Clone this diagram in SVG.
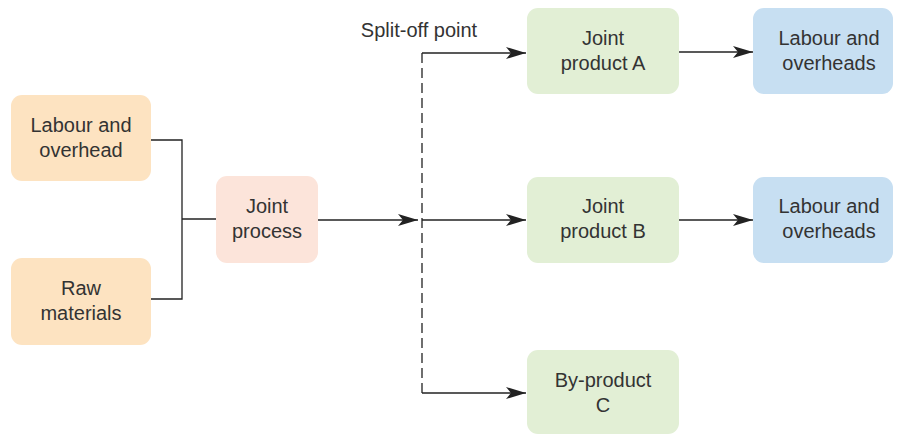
<svg xmlns="http://www.w3.org/2000/svg" width="900" height="434" viewBox="0 0 900 434">
<defs>
<style>
.box{stroke:none}
.or{fill:#fde3c1}.pk{fill:#fce4da}.gr{fill:#e2efd5}.bl{fill:#c7dff2}
text{font-family:"Liberation Sans",Arial,sans-serif;font-size:20px;fill:#333;text-anchor:middle}
.ln{fill:none;stroke:#222;stroke-width:1.3}
.dash{fill:none;stroke:#222;stroke-width:1.3;stroke-dasharray:10,5}
</style>
<marker id="ah" viewBox="0 0 20 12" refX="20" refY="6" markerWidth="20" markerHeight="12" markerUnits="userSpaceOnUse" orient="auto">
<path d="M0,0 L20,6 L0,12 L5,6 Z" fill="#222"/>
</marker>
</defs>
<g id="connectors">
<polyline class="ln" points="151,140 182,140 182,299 151,299"/>
<line class="ln" x1="182" y1="219" x2="216" y2="219"/>
<line class="ln" x1="318" y1="220" x2="418" y2="220" marker-end="url(#ah)"/>
<line class="dash" x1="422" y1="53" x2="422" y2="393"/>
<line class="ln" x1="422" y1="53" x2="526" y2="53" marker-end="url(#ah)"/>
<line class="ln" x1="422" y1="220" x2="526" y2="220" marker-end="url(#ah)"/>
<line class="ln" x1="422" y1="393" x2="526" y2="393" marker-end="url(#ah)"/>
<line class="ln" x1="679" y1="52" x2="753" y2="52" marker-end="url(#ah)"/>
<line class="ln" x1="679" y1="220" x2="753" y2="220" marker-end="url(#ah)"/>
</g>
<text id="split-label" x="419" y="37">Split-off point</text>
<g id="labour-overhead"><rect class="box or" x="11" y="95" width="140" height="86" rx="11"/><text x="81" y="132">Labour and</text><text x="81" y="157">overhead</text></g>
<g id="raw-materials"><rect class="box or" x="11" y="258" width="140" height="87" rx="11"/><text x="81" y="295">Raw</text><text x="81" y="320">materials</text></g>
<g id="joint-process"><rect class="box pk" x="216" y="176" width="102" height="87" rx="11"/><text x="267" y="213">Joint</text><text x="267" y="238">process</text></g>
<g id="joint-product-a"><rect class="box gr" x="527" y="8" width="152" height="86" rx="11"/><text x="603" y="45">Joint</text><text x="603" y="70">product A</text></g>
<g id="joint-product-b"><rect class="box gr" x="527" y="177" width="152" height="86" rx="11"/><text x="603" y="213">Joint</text><text x="603" y="238">product B</text></g>
<g id="by-product-c"><rect class="box gr" x="527" y="350" width="152" height="84" rx="11"/><text x="603" y="387">By-product</text><text x="603" y="412">C</text></g>
<g id="labour-overheads-a"><rect class="box bl" x="753" y="8" width="140" height="86" rx="11"/><text x="829" y="45">Labour and</text><text x="829" y="70">overheads</text></g>
<g id="labour-overheads-b"><rect class="box bl" x="753" y="177" width="140" height="86" rx="11"/><text x="829" y="213">Labour and</text><text x="829" y="238">overheads</text></g>
</svg>
